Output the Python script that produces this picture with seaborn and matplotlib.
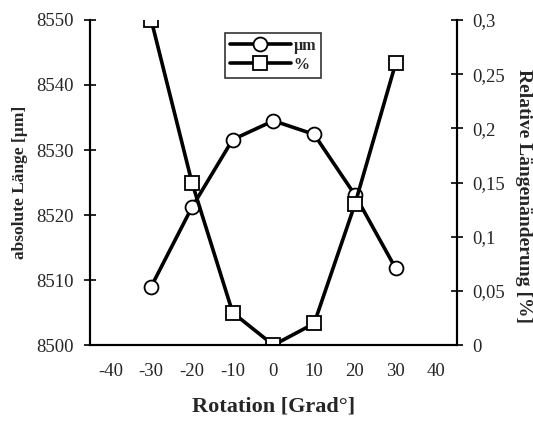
import numpy as np
import pandas as pd
import seaborn as sns
import matplotlib.pyplot as plt
from matplotlib.ticker import FixedLocator, FuncFormatter, NullFormatter

# Werte
rotation = [-30, -20, -10, 0, 10, 20, 30]
laenge_um = [8509.0, 8521.2, 8531.6, 8534.5, 8532.4, 8523.1, 8511.8]
aenderung_pct = [0.30, 0.15, 0.03, 0.0, 0.02, 0.13, 0.26]
x_labels = [-40, -30, -20, -10, 0, 10, 20, 30, 40]

df = pd.DataFrame({'Rotation': rotation, 'um': laenge_um, 'pct': aenderung_pct})

sns.set_style('white')
plt.rcParams['font.family'] = ['Liberation Serif', 'DejaVu Serif']

fig = plt.figure(figsize=(5.33, 4.24), dpi=100)
ax = fig.add_axes([0.169, 0.186, 0.688, 0.767])
ax2 = ax.twinx()

line_kw = dict(color='black', linewidth=2.6, markersize=10,
               markerfacecolor='white', markeredgecolor='black', markeredgewidth=1.3)
sns.lineplot(data=df, x='Rotation', y='um', marker='o', ax=ax, label='µm', legend=False, **line_kw)
sns.lineplot(data=df, x='Rotation', y='pct', marker='s', ax=ax2, label='%', legend=False, **line_kw)

ax.set_xlim(-45, 45)
ax.set_ylim(8500, 8550)
ax2.set_ylim(0, 0.3)

# Kategorieachse: Striche zwischen den Beschriftungen
ax.xaxis.set_major_locator(FixedLocator(np.arange(-45, 46, 10)))
ax.xaxis.set_major_formatter(NullFormatter())
ax.xaxis.set_minor_locator(FixedLocator(x_labels))
ax.xaxis.set_minor_formatter(FuncFormatter(lambda v, p: f'{int(v)}'))
ax.tick_params(axis='x', which='major', direction='inout', length=8, width=1.2, color='black')
ax.tick_params(axis='x', which='minor', length=0, pad=13, labelsize=13.5)

ax.set_yticks(np.arange(8500, 8551, 10))
ax.tick_params(axis='y', direction='inout', length=8, width=1.2, color='black', labelsize=13.5, pad=8)
ax2.set_yticks(np.arange(0, 0.31, 0.05))
ax2.yaxis.set_major_formatter(FuncFormatter(lambda v, p: f'{v:g}'.replace('.', ',') if v > 1e-9 else '0'))
ax2.tick_params(axis='y', direction='inout', length=8, width=1.2, color='black', labelsize=13.5, pad=7)

for a in (ax, ax2):
    a.spines['top'].set_visible(False)
    for s in ['left', 'right', 'bottom']:
        a.spines[s].set_color('black')
        a.spines[s].set_linewidth(1.5)

ax.set_xlabel('Rotation [Grad°]', fontsize=16, fontweight='bold', labelpad=12)
ax.set_ylabel('absolute Länge [µm]', fontsize=12.5, fontweight='bold', labelpad=6)
ax2.set_ylabel('Relative Längenänderung [%]', fontsize=14, fontweight='bold', rotation=-90)
ax2.yaxis.set_label_coords(1.205, 0.46)

h1, l1 = ax.get_legend_handles_labels()
h2, l2 = ax2.get_legend_handles_labels()
leg = ax2.legend(h1 + h2, l1 + l2, loc='upper left', bbox_to_anchor=(0.368, 0.96),
                 borderaxespad=0, frameon=True, fancybox=False, edgecolor='black',
                 handlelength=3.8, labelspacing=0.2,
                 prop={'weight': 'bold', 'size': 11.5}, borderpad=0.3, handletextpad=0.2)
leg.get_frame().set_linewidth(1.2)

fig.savefig('out.png', dpi=100)
